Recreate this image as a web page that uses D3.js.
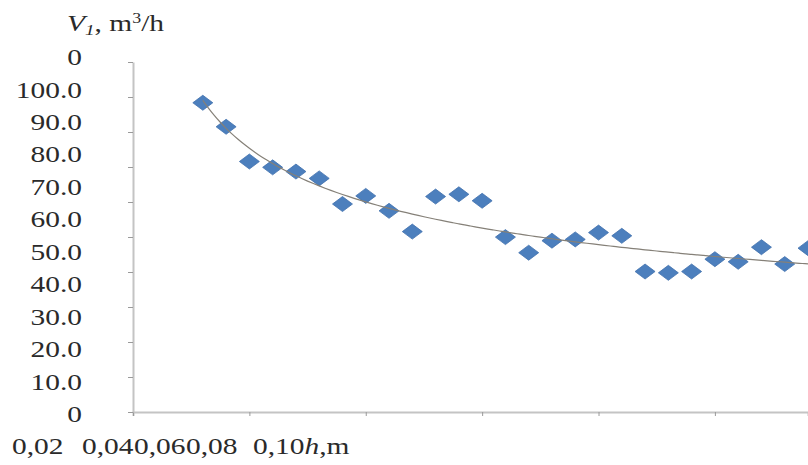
<!DOCTYPE html>
<html>
<head>
<meta charset="utf-8">
<script src="https://cdn.jsdelivr.net/npm/d3@7"></script>
<style>
  html, body { margin: 0; padding: 0; background: #fff; }
  svg { display: block; }
  text { font-family: "Liberation Serif", "Times New Roman", serif; fill: #2a2a2a; }
</style>
</head>
<body>
<div id="chart"></div>
<script>
// depth h, m
const hValues = [0.012, 0.016, 0.020, 0.024, 0.028, 0.032, 0.036, 0.040, 0.044,
  0.048, 0.052, 0.056, 0.060, 0.064, 0.068, 0.072, 0.076, 0.080, 0.084, 0.088,
  0.092, 0.096, 0.100, 0.104, 0.108, 0.112, 0.116];
// flow V1, m3/h
const vValues = [95.9, 88.5, 77.8, 76.0, 74.7, 72.6, 64.7, 67.2, 62.6,
  56.2, 67.0, 67.7, 65.7, 54.5, 49.7, 53.4, 53.8, 55.9, 54.9, 43.9,
  43.5, 43.9, 47.7, 46.9, 51.4, 46.2, 51.1];

const yLabelValues = [110, 100, 90, 80, 70, 60, 50, 40, 30, 20, 10, 0];
const yTickLabels = ["0", "100.0", "90.0", "80.0", "70.0", "60.0", "50.0", "40.0", "30.0", "20.0", "10.0", "0"];
const xTickLabels = ["0,02", "0,04", "0,06", "0,08", "0,10"];

const width = 808, height = 465;
const fontSize = 23, stretch = 1.28;
const xLabelStart = [12, 82, 134, 186, 253];

let svg = d3.select("#chart")
  .append("svg")
    .attr("width", width)
    .attr("height", height);

let x = d3.scaleLinear().domain([0, 0.116]).range([133, 808]);
let y = d3.scaleLinear().domain([0, 110]).range([414, 57]);
// the axis ticks of the original plot
let yAxisScale = d3.scaleLinear().domain([0, 100]).range([412, 62]);

// axes
let xAxis = svg.append("g")
  .attr("transform", "translate(0,412)")
  .call(d3.axisBottom(x).tickValues([0, 0.02, 0.04, 0.06, 0.08, 0.10]).tickSize(4).tickFormat(""));
xAxis.select(".domain").attr("stroke", "#c4c4c4").attr("stroke-width", 2);
xAxis.selectAll(".tick line").attr("stroke", "#9a9a9a");

let yAxis = svg.append("g")
  .attr("transform", "translate(133,0)")
  .call(d3.axisLeft(yAxisScale).ticks(10).tickSize(5).tickSizeOuter(0).tickFormat(""));
yAxis.select(".domain").attr("stroke", "#c4c4c4").attr("stroke-width", 2);
yAxis.selectAll(".tick line").attr("stroke", "#9a9a9a");

// y labels
svg.append("g")
  .selectAll("text")
  .data(yLabelValues)
  .enter()
  .append("text")
    .attr("transform", d => "translate(82," + y(d) + ") scale(" + stretch + ",1)")
    .attr("dy", "0.35em")
    .attr("text-anchor", "end")
    .style("font-size", fontSize + "px")
    .text((d, i) => yTickLabels[i]);

// x labels
let xl = svg.append("g")
  .selectAll("text")
  .data(xTickLabels)
  .enter()
  .append("text")
    .attr("transform", (d, i) => "translate(" + xLabelStart[i] + ",454) scale(" + stretch + ",1)")
    .style("font-size", fontSize + "px")
    .text(d => d);
xl.filter((d, i) => i === xTickLabels.length - 1)
  .append("tspan").style("font-style", "italic").text("h");
xl.filter((d, i) => i === xTickLabels.length - 1)
  .append("tspan").text(",m");

// y title
let title = svg.append("text")
  .attr("transform", "translate(67,31) scale(" + stretch + ",1)")
  .style("font-size", fontSize + "px");
title.append("tspan").style("font-style", "italic").text("V");
title.append("tspan").style("font-style", "italic").style("font-size", "15px").attr("dy", 4).text("1");
title.append("tspan").attr("dy", -4).text(", m");
title.append("tspan").style("font-size", "14px").attr("dy", -8).text("3");
title.append("tspan").attr("dy", 8).text("/h");

// points
let data = hValues.map((h, i) => [h, vValues[i]]);
svg.append("g")
  .selectAll("path")
  .data(data)
  .enter()
  .append("path")
    .attr("transform", d => "translate(" + x(d[0]) + "," + y(d[1]) + ")")
    .attr("d", "M0,-7.5L10,0L0,7.5L-10,0Z")
    .attr("fill", "#4c7fbd")
    .attr("stroke", "#4171ad")
    .attr("stroke-width", 0.8);

// power trendline, least squares on log-log
let lx = data.map(d => Math.log(d[0])), ly = data.map(d => Math.log(d[1]));
let mx = d3.mean(lx), my = d3.mean(ly);
let b = d3.sum(lx, (v, i) => (v - mx) * (ly[i] - my)) / d3.sum(lx, v => (v - mx) * (v - mx));
let a = Math.exp(my - b * mx);
let hs = d3.range(0.012, 0.1161, 0.001);
svg.append("path")
  .datum(hs)
  .attr("fill", "none")
  .attr("stroke", "#858078")
  .attr("stroke-width", 1.2)
  .attr("d", d3.line().x(h => x(h)).y(h => y(a * Math.pow(h, b))).curve(d3.curveMonotoneX));
</script>
</body>
</html>
